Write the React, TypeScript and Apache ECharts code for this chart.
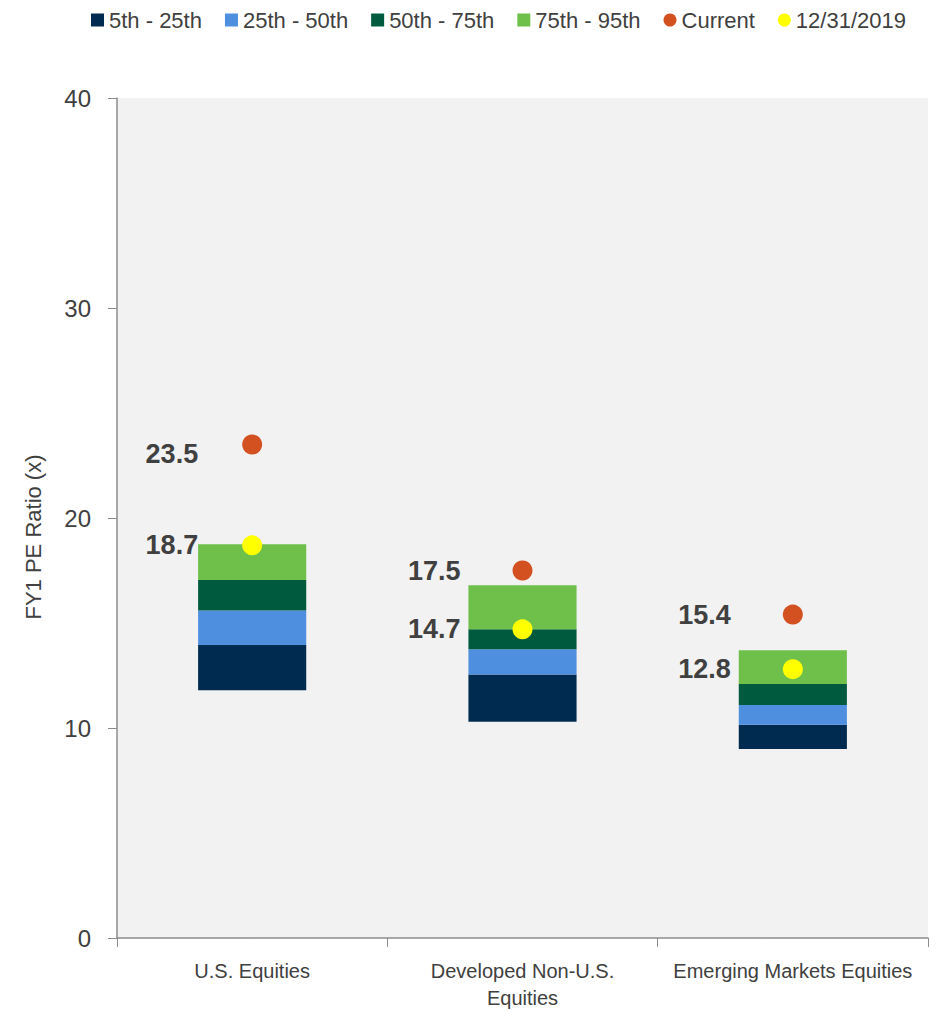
import React, { useEffect, useRef } from "react";
import * as echarts from "echarts";

const categories = ["U.S. Equities", "Developed Non-U.S.\nEquities", "Emerging Markets Equities"];
const p5 = [11.8, 10.3, 9.0];
const p25 = [13.95, 12.55, 10.15];
const p50 = [15.6, 13.75, 11.1];
const p75 = [17.05, 14.7, 12.1];
const p95 = [18.75, 16.8, 13.7];
const current = [23.5, 17.5, 15.4];
const dec2019 = [18.7, 14.7, 12.8];
const yTicks = [0, 10, 20, 30, 40];

const FONT = "'Liberation Sans', Arial, sans-serif";
const TXT = "#404040";

export default function App() {
  const ref = useRef<HTMLDivElement>(null);
  useEffect(() => {
    if (!ref.current) return;
    const chart = echarts.init(ref.current, null, { renderer: "svg" });
    const diff = (a: number[], b: number[]) => a.map((v, i) => +(v - b[i]).toFixed(3));
    const bands = [
      { name: "5th - 25th", data: diff(p25, p5), color: "#002B50" },
      { name: "25th - 50th", data: diff(p50, p25), color: "#4F8FE0" },
      { name: "50th - 75th", data: diff(p75, p50), color: "#005A3E" },
      { name: "75th - 95th", data: diff(p95, p75), color: "#6EC04B" },
    ];
    const labelDist = [44, 52, 52];
    const baseLabel = {
      show: true,
      position: "left",
      fontFamily: FONT,
      fontSize: 27,
      fontWeight: "bold",
      color: TXT,
      formatter: (p: any) => Number(p.value).toFixed(1),
    };
    const pts = (arr: number[], shiftFirst: boolean) =>
      arr.map((v, i) => ({
        value: v,
        label: { distance: labelDist[i], offset: shiftFirst && i === 0 ? [0, 9] : [0, 0] },
      }));
    chart.setOption({
      animation: false,
      textStyle: { fontFamily: FONT },
      legend: {
        top: 4,
        left: 86,
        itemGap: 23,
        itemWidth: 13,
        itemHeight: 13,
        textStyle: { fontFamily: FONT, fontSize: 22, color: TXT },
        data: [
          { name: "5th - 25th", icon: "rect" },
          { name: "25th - 50th", icon: "rect" },
          { name: "50th - 75th", icon: "rect" },
          { name: "75th - 95th", icon: "rect" },
          { name: "Current", icon: "circle" },
          { name: "12/31/2019", icon: "circle" },
        ],
      },
      grid: {
        left: 117,
        right: 20,
        top: 98,
        bottom: 70,
        show: true,
        backgroundColor: "#f2f2f2",
        borderWidth: 0,
      },
      graphic: [
        {
          type: "text",
          x: 33,
          y: 537,
          rotation: Math.PI / 2,
          style: {
            text: "FY1 PE Ratio (x)",
            fontFamily: FONT,
            fontSize: 22,
            fill: TXT,
            textAlign: "center",
            textVerticalAlign: "middle",
          },
        },
      ],
      xAxis: {
        type: "category",
        data: categories,
        axisLine: { lineStyle: { color: "#8c8c8c", width: 1.5 } },
        axisTick: { show: true, length: 9, interval: 0, lineStyle: { color: "#8c8c8c" } },
        axisLabel: { fontFamily: FONT, fontSize: 20, color: TXT, margin: 19, lineHeight: 27, interval: 0 },
      },
      yAxis: {
        type: "value",
        min: yTicks[0],
        max: yTicks[yTicks.length - 1],
        interval: 10,
        splitLine: { show: false },
        axisLine: { show: true, lineStyle: { color: "#8c8c8c", width: 1.5 } },
        axisTick: { show: true, length: 9, lineStyle: { color: "#8c8c8c" } },
        axisLabel: { fontFamily: FONT, fontSize: 24, color: TXT, margin: 26 },
      },
      series: [
        {
          name: "base",
          type: "bar",
          stack: "s",
          data: p5,
          barWidth: "40%",
          itemStyle: { color: "transparent" },
          silent: true,
        },
        ...bands.map((b) => ({
          name: b.name,
          type: "bar",
          stack: "s",
          data: b.data,
          barWidth: "40%",
          itemStyle: { color: b.color },
        })),
        {
          name: "Current",
          type: "scatter",
          data: pts(current, true),
          symbolSize: 20,
          itemStyle: { color: "#D35020", opacity: 1 },
          label: baseLabel,
          z: 5,
        },
        {
          name: "12/31/2019",
          type: "scatter",
          data: pts(dec2019, false),
          symbolSize: 20,
          itemStyle: { color: "#FFFF00", opacity: 1 },
          label: baseLabel,
          z: 6,
        },
      ],
    });
    return () => chart.dispose();
  }, []);
  return (
    <div
      ref={ref}
      style={{ position: "absolute", left: 0, top: 0, width: 948, height: 1011 }}
    />
  );
}
